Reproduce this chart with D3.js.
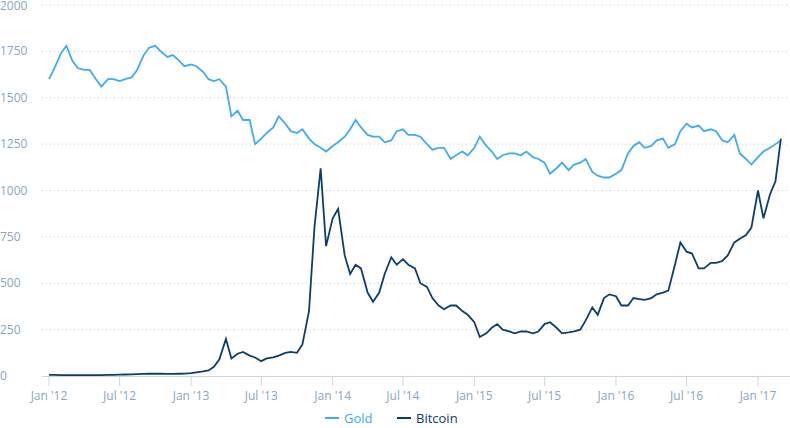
<!DOCTYPE html><html><head><meta charset="utf-8"><script src="https://cdn.jsdelivr.net/npm/d3@7"></script>
<style>body{margin:0;background:#fff;font-family:"Open Sans",sans-serif}</style></head><body><svg id="c" width="790" height="428"></svg>
<script>
const startDate="2012-01-01";
const gold=[1600,1660,1740,1780,1700,1660,1650,1650,1600,1560,1600,1600,1590,1600,1610,1650,1730,1770,1780,1750,1720,1730,1700,1670,
1680,1670,1640,1600,1590,1600,1560,1400,1430,1380,1380,1250,1280,1310,1340,1400,1360,1320,1310,1330,1280,1250,1230,1210,
1240,1260,1290,1330,1380,1340,1300,1290,1290,1260,1270,1320,1330,1300,1300,1290,1250,1220,1230,1230,1170,1190,1210,1190,
1230,1290,1240,1210,1170,1190,1200,1200,1190,1210,1180,1170,1150,1090,1120,1150,1110,1140,1150,1170,1100,1080,1070,1070,
1090,1110,1200,1240,1260,1230,1240,1270,1280,1230,1250,1320,1360,1340,1350,1320,1330,1320,1270,1260,1300,1200,1170,1140,
1180,1210,1230,1250,1270];
const bitcoin=[6,6,5,5,5,5,5,5,5,5,6,6,7,8,9,10,11,12,12,12,11,11,12,13,
15,20,25,30,50,90,200,95,120,130,110,100,80,95,100,110,125,130,125,170,350,800,1120,700,
850,900,650,550,600,580,450,400,450,550,640,600,630,600,580,500,480,420,380,360,380,380,350,330,
290,210,230,260,280,250,240,230,240,240,230,240,280,290,260,230,235,240,250,300,370,330,420,440,
430,380,380,420,415,410,420,440,450,460,600,720,670,660,580,580,610,610,620,650,720,740,760,800,
1000,850,980,1050,1280];
const yTicks=[0,250,500,750,1000,1250,1500,1750,2000];
const xTickLabels=["Jan '12","Jul '12","Jan '13","Jul '13","Jan '14","Jul '14","Jan '15","Jul '15","Jan '16","Jul '16","Jan '17"];
const xTickDates=["2012-01-01","2012-07-01","2013-01-01","2013-07-01","2014-01-01","2014-07-01","2015-01-01","2015-07-01","2016-01-01","2016-07-01","2017-01-01"].map(d=>new Date(d));
const t0=new Date(startDate);
const dates=gold.map((_,i)=>{const m=Math.floor(i/2);return new Date(t0.getFullYear(),t0.getMonth()+m,i%2?15:1);});
const svg=d3.select("#c");
const x=d3.scaleTime().domain([new Date("2012-01-01"),new Date("2017-01-01")]).range([49,758]);
const y=d3.scaleLinear().domain([0,2000]).range([376,5]);
const tc="#8aa6c1";
yTicks.forEach(v=>{
 if(v>0)svg.append("line").attr("x1",42).attr("x2",790).attr("y1",y(v)).attr("y2",y(v)).attr("stroke","#b9cde0").attr("stroke-dasharray","1,3");
 svg.append("text").attr("x",0).attr("y",Math.max(y(v)+4,10)).attr("font-size",12).attr("fill",tc).text(v);
});
svg.append("line").attr("x1",42).attr("x2",790).attr("y1",376.5).attr("y2",376.5).attr("stroke","#c8d6e5");
xTickDates.forEach((d,i)=>{
 svg.append("line").attr("x1",x(d)).attr("x2",x(d)).attr("y1",376).attr("y2",386).attr("stroke","#c8d6e5");
 svg.append("text").attr("x",x(d)).attr("y",400).attr("text-anchor","middle").attr("font-size",12).attr("fill",tc).text(xTickLabels[i]);
});
const line=d3.line().x((d,i)=>x(dates[i])).y(d=>y(d)).curve(d3.curveLinear);
svg.append("path").datum(gold).attr("d",line).attr("fill","none").attr("stroke","#41aaf3").attr("stroke-width",1.8);
svg.append("path").datum(bitcoin).attr("d",line).attr("fill","none").attr("stroke","#0d3e6b").attr("stroke-width",1.8);
const lg=svg.append("g").attr("transform","translate(325,423)");
lg.append("line").attr("x1",0).attr("x2",14).attr("y1",-5).attr("y2",-5).attr("stroke","#41aaf3").attr("stroke-width",2);
lg.append("text").attr("x",19).attr("y",0).attr("font-size",13).attr("fill","#41aaf3").text("Gold");
lg.append("line").attr("x1",72).attr("x2",86).attr("y1",-5).attr("y2",-5).attr("stroke","#0d3e6b").attr("stroke-width",2);
lg.append("text").attr("x",91).attr("y",0).attr("font-size",13).attr("fill","#0d3e6b").text("Bitcoin");
</script></body></html>
